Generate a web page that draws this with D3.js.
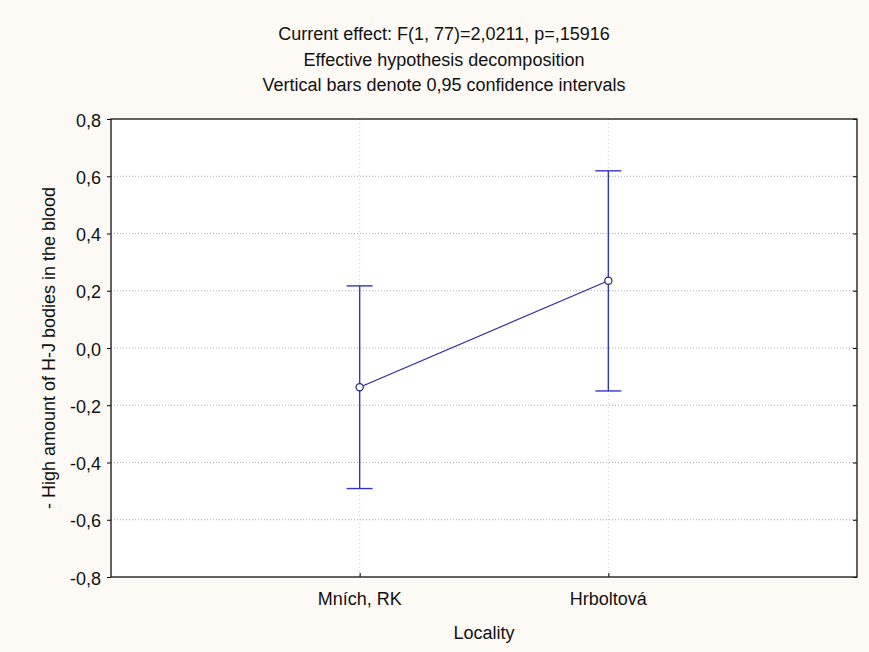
<!DOCTYPE html>
<html><head><meta charset="utf-8">
<script src="https://cdn.jsdelivr.net/npm/d3@7"></script>
<style>body{margin:0;background:#fdfaf5;}svg{display:block;}</style>
</head><body>
<svg id="c" width="869" height="652"></svg>
<script>
const categories = ["Mních, RK", "Hrboltová"];
const means = [-0.137, 0.235];
const upper = [0.217, 0.619];
const lower = [-0.491, -0.150];
const yTicks = [0.8, 0.6, 0.4, 0.2, 0.0, -0.2, -0.4, -0.6, -0.8];
const titleLines = ["Current effect: F(1, 77)=2,0211, p=,15916", "Effective hypothesis decomposition", "Vertical bars denote 0,95 confidence intervals"];
const yLabel = "- High amount of H-J bodies in the blood";
const xLabel = "Locality";

const svg = d3.select("#c");
const L = 111, R = 857, T = 119, B = 577;
const font = "Arial, 'Liberation Sans', sans-serif";
const fs = 18;
svg.append("rect").attr("width", 869).attr("height", 652).attr("fill", "#fdfaf5");
svg.append("rect").attr("x", L).attr("y", T).attr("width", R - L).attr("height", B - T).attr("fill", "#fff");

const x = d3.scalePoint().domain(categories).range([L, R]).padding(1);
const y = d3.scaleLinear().domain([-0.8, 0.8]).range([B, T]);
const fmt = v => d3.format(".1f")(v).replace(".", ",").replace("−", "-");

// grid
svg.append("g").selectAll("line").data(yTicks.filter(v => v > -0.8 && v < 0.8)).join("line")
  .attr("x1", L).attr("x2", R).attr("y1", d => y(d)).attr("y2", d => y(d))
  .attr("stroke", "#a8a8a8").attr("stroke-dasharray", "1,2");
svg.append("g").selectAll("line").data(categories).join("line")
  .attr("x1", d => x(d)).attr("x2", d => x(d)).attr("y1", T).attr("y2", B)
  .attr("stroke", "#c8c8c8").attr("stroke-dasharray", "1,3");

// axes
const ya = svg.append("g").attr("transform", `translate(${L},0)`)
  .call(d3.axisLeft(y).tickValues(yTicks).tickFormat(fmt).tickSize(4).tickPadding(6));
ya.select(".domain").remove();
ya.selectAll("line").attr("stroke", "#000");
ya.selectAll("text").attr("font-family", font).attr("font-size", fs).attr("fill", "#111").attr("dy", "0.4em");
const yr = svg.append("g").attr("transform", `translate(${R},0)`)
  .call(d3.axisLeft(y).tickValues(yTicks).tickFormat("").tickSize(4));
yr.select(".domain").remove();
const xa = svg.append("g").attr("transform", `translate(0,${B})`)
  .call(d3.axisTop(x).tickSize(4).tickFormat(""));
xa.select(".domain").remove();
categories.forEach(c => svg.append("text").attr("x", x(c)).attr("y", B + 28)
  .attr("text-anchor", "middle").attr("font-family", font).attr("font-size", fs).attr("fill", "#111").text(c));

svg.append("rect").attr("x", L).attr("y", T).attr("width", R - L).attr("height", B - T)
  .attr("fill", "none").attr("stroke", "#222").attr("stroke-width", 1.4);

// error bars
const col = "#3535c5";
const g = svg.append("g");
categories.forEach((c, i) => {
  const cx = x(c);
  g.append("line").attr("x1", cx).attr("x2", cx).attr("y1", y(upper[i])).attr("y2", y(lower[i])).attr("stroke", col).attr("stroke-width", 1.4);
  [upper[i], lower[i]].forEach(v => g.append("line").attr("x1", cx - 13).attr("x2", cx + 13)
    .attr("y1", y(v)).attr("y2", y(v)).attr("stroke", col).attr("stroke-width", 1.4));
});
g.append("path").datum(categories.map((c, i) => [x(c), y(means[i])]))
  .attr("d", d3.line()).attr("fill", "none").attr("stroke", "#2a2aa8").attr("stroke-width", 1.2);
g.selectAll("circle").data(categories).join("circle")
  .attr("cx", d => x(d)).attr("cy", (d, i) => y(means[i])).attr("r", 3.6)
  .attr("fill", "#fff").attr("stroke", "#22227a").attr("stroke-width", 1.2);

// titles
titleLines.forEach((t, i) => svg.append("text").attr("x", 444).attr("y", 40 + i * 25.5)
  .attr("text-anchor", "middle").attr("font-family", font).attr("font-size", fs).attr("fill", "#111").text(t));
svg.append("text").attr("transform", `translate(55,${(T + B) / 2}) rotate(-90)`)
  .attr("text-anchor", "middle").attr("font-family", font).attr("font-size", fs).attr("fill", "#111").text(yLabel);
svg.append("text").attr("x", (L + R) / 2).attr("y", B + 62).attr("text-anchor", "middle")
  .attr("font-family", font).attr("font-size", fs).attr("fill", "#111").text(xLabel);
</script>
</body></html>
